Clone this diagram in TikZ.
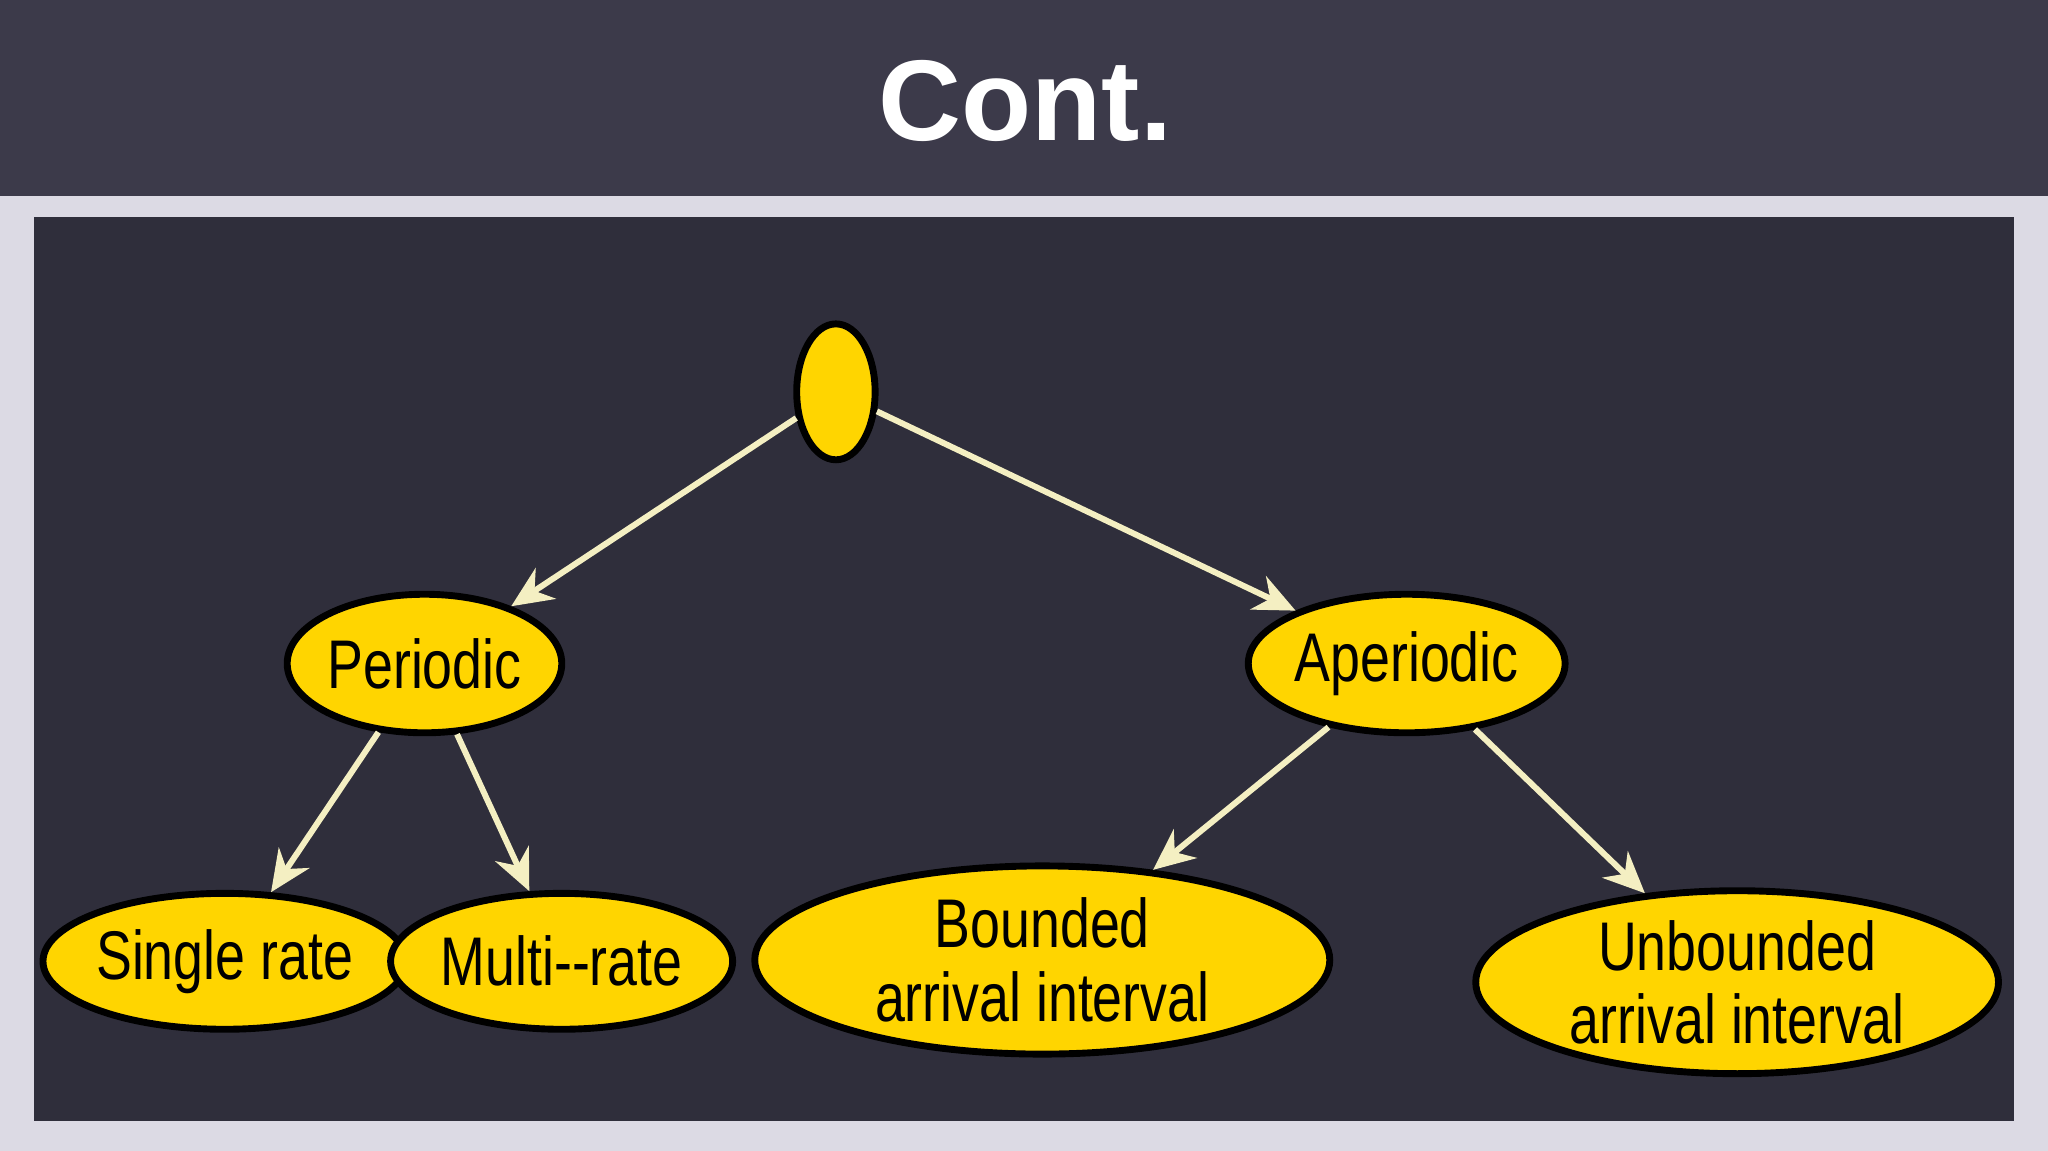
\documentclass[tikz,border=0pt]{standalone}
\usepackage{fontspec}
\setmainfont{Liberation Sans}
\newfontfamily\narrowfont{Liberation Sans}[FakeStretch=0.78]
\usetikzlibrary{arrows.meta, shapes.geometric, positioning}
\definecolor{barcol}{HTML}{3C3A4A}
\definecolor{pagecol}{HTML}{DCDAE4}
\definecolor{panelcol}{HTML}{2F2E3B}
\definecolor{nodecol}{HTML}{FFD500}
\definecolor{arrcol}{HTML}{F4EFC2}
\tikzset{
    blob/.style={ellipse, draw=black, line width=1.5pt, fill=nodecol,
        inner sep=0pt, font=\narrowfont\fontsize{15}{16}\selectfont, align=center},
    link/.style={draw=arrcol, line width=1.3pt, -{Stealth[length=9pt, width=8pt]}},
}
\begin{document}
\begin{tikzpicture}[x=0.01cm, y=-0.01cm]
    % background
    \useasboundingbox (0, 0) rectangle (1568, 881);
    \fill[pagecol] (0, 0) rectangle (1568, 881);
    \fill[barcol] (0, 0) rectangle (1568, 150);
    \fill[panelcol] (26, 166) rectangle (1542, 858);
    \node[text=white, font=\bfseries\fontsize{25}{30}\selectfont] (title) at (785, 77) {Cont.};
    % tree
    \node[blob, minimum width=0.6cm, minimum height=1.04cm] (root) at (640, 300) {};
    \node[blob, minimum width=1.86cm, minimum height=1.06cm] (per) at (325, 508) {Periodic};
    \node[blob, minimum width=2.1cm, minimum height=1.06cm] (aper) at (1077, 508) {Aperiodic};
    \node[blob, minimum width=2.5cm, minimum height=1.04cm] (single) at (172, 736) {Single rate};
    \node[blob, minimum width=2.1cm, minimum height=1.04cm] (multi) at (430, 736) {Multi--rate};
    \node[blob, minimum width=4.4cm, minimum height=1.44cm] (bnd) at (798, 735) {Bounded\\arrival interval};
    \node[blob, minimum width=4cm, minimum height=1.4cm] (unbnd) at (1330, 752) {Unbounded\\arrival interval};
    % arrows
    \draw[link] (root) -- (per);
    \draw[link] (root) -- (aper);
    \draw[link] (per) -- (single);
    \draw[link] (per) -- (multi);
    \draw[link] (aper) -- (bnd);
    \draw[link] (aper) -- (unbnd);
\end{tikzpicture}
\end{document}
